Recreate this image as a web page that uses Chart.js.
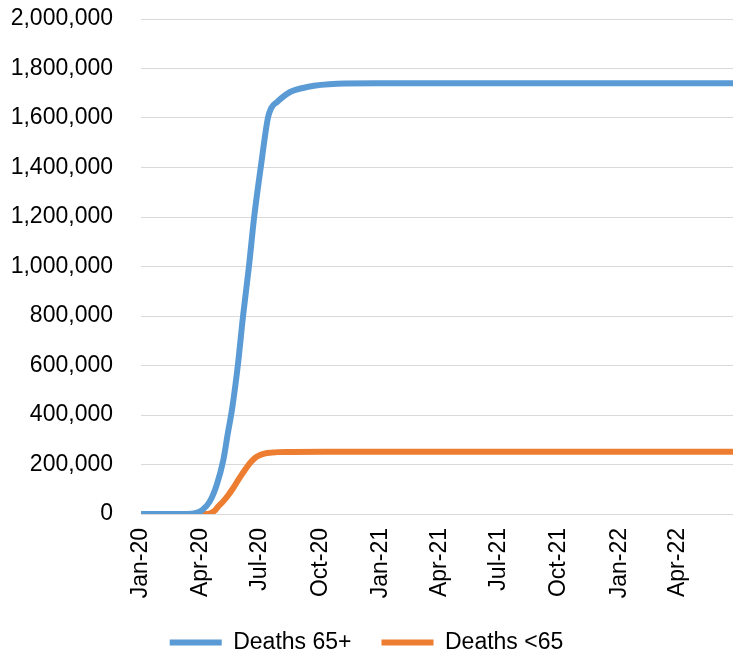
<!DOCTYPE html>
<html>
<head>
<meta charset="utf-8">
<script src="https://cdn.jsdelivr.net/npm/chart.js@4/dist/chart.umd.min.js"></script>
<style>
  html, body { margin: 0; padding: 0; background: #ffffff; }
  #wrap { width: 733px; height: 654px; position: relative; }
</style>
</head>
<body>
<div id="wrap"><canvas id="c" width="733" height="654"></canvas></div>
<script>
// Days since 1 Jan 2020
const tickDays   = [0, 91, 182, 274, 366, 456, 547, 639, 731, 821];
const tickLabels = ['Jan-20', 'Apr-20', 'Jul-20', 'Oct-20', 'Jan-21', 'Apr-21', 'Jul-21', 'Oct-21', 'Jan-22', 'Apr-22'];

const seriesNames = ['Deaths 65+', 'Deaths <65'];

const days65plus   = [0, 70, 83, 93, 105, 116, 126, 133, 139, 148, 156, 165, 173, 183, 194, 199, 208, 228, 254, 300, 360, 905];
const deaths65plus = [0, 0, 3000, 15000, 50000, 120000, 220000, 330000, 420000, 600000, 800000, 1000000, 1200000, 1400000, 1600000, 1640000, 1665000, 1705000, 1725000, 1738000, 1740000, 1740000];

const daysUnder65   = [0, 98, 105, 112, 118, 126, 133, 141, 148, 155, 162, 168, 174, 182, 190, 200, 209, 230, 280, 905];
const deathsUnder65 = [0, 0, 2000, 12000, 30000, 52000, 75000, 105000, 135000, 163000, 190000, 210000, 226000, 238000, 245000, 248000, 250000, 251000, 252000, 252000];

const yTicksMax = 2000000;
const yStep = 200000;

const toXY = (xs, ys) => xs.map((x, i) => ({ x: x, y: ys[i] }));

const FONT = { family: "'Liberation Sans', Arial, sans-serif", size: 23 };

new Chart(document.getElementById('c'), {
  type: 'line',
  data: {
    datasets: [
      {
        label: seriesNames[0],
        data: toXY(days65plus, deaths65plus),
        borderColor: '#5B9BD5',
        backgroundColor: '#5B9BD5',
        borderWidth: 6,
        borderCapStyle: 'round',
        borderJoinStyle: 'round',
        pointRadius: 0,
        cubicInterpolationMode: 'monotone',
        fill: false
      },
      {
        label: seriesNames[1],
        data: toXY(daysUnder65, deathsUnder65),
        borderColor: '#ED7D31',
        backgroundColor: '#ED7D31',
        borderWidth: 6,
        borderCapStyle: 'round',
        borderJoinStyle: 'round',
        pointRadius: 0,
        cubicInterpolationMode: 'monotone',
        fill: false
      }
    ]
  },
  options: {
    responsive: false,
    animation: false,
    devicePixelRatio: 1,
    layout: { padding: { top: 19, right: 0, left: 0, bottom: -10 } },
    plugins: {
      legend: {
        position: 'bottom',
        labels: {
          usePointStyle: true,
          pointStyle: 'line',
          pointStyleWidth: 52,
          padding: 30,
          color: '#000000',
          font: FONT
        }
      },
      tooltip: { enabled: false }
    },
    scales: {
      x: {
        type: 'linear',
        min: 0,
        max: 905,
        grid: { display: false, drawTicks: false },
        border: { display: false },
        afterBuildTicks: (scale) => { scale.ticks = tickDays.map(v => ({ value: v })); },
        afterFit: (scale) => { scale.height = 87; },
        ticks: {
          autoSkip: false,
          minRotation: 90,
          maxRotation: 90,
          padding: 14,
          color: '#000000',
          font: FONT,
          callback: (value) => {
            const i = tickDays.indexOf(value);
            return i >= 0 ? tickLabels[i] : '';
          }
        }
      },
      y: {
        min: 0,
        max: yTicksMax,
        grid: { color: '#d9d9d9', lineWidth: 1, drawTicks: true, tickLength: 28, tickColor: 'rgba(0,0,0,0)' },
        border: { display: false },
        afterFit: (scale) => { scale.width = 141; },
        ticks: {
          stepSize: yStep,
          padding: 0,
          color: '#000000',
          font: FONT,
          callback: (value) => value.toLocaleString('en-US')
        }
      }
    }
  }
});
</script>
</body>
</html>
